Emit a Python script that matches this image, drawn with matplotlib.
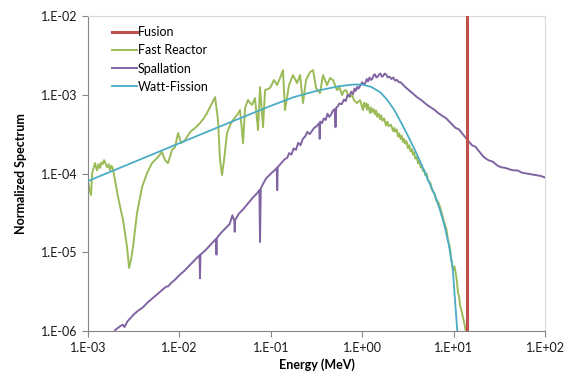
import numpy as np
import matplotlib
matplotlib.use('Agg')
import matplotlib.pyplot as plt
from matplotlib.ticker import FixedLocator, FuncFormatter

# Valeurs (en log10 : énergie en MeV, spectre normalisé)
fusion_e = [14.0, 14.0]
fusion_phi = [1e-7, 1.0]

fast_log_e = [
    -3.000, -2.985, -2.967, -2.955, -2.945, -2.923, -2.910, -2.900, -2.885, -2.869,
    -2.855, -2.840, -2.825, -2.814, -2.800, -2.790, -2.775, -2.759, -2.745, -2.730,
    -2.705, -2.672, -2.617, -2.573, -2.551, -2.530, -2.508, -2.464, -2.409, -2.354,
    -2.300, -2.245, -2.190, -2.158, -2.125, -2.081, -2.048, -2.015, -1.982, -1.939,
    -1.884, -1.829, -1.775, -1.731, -1.698, -1.654, -1.610, -1.578, -1.556, -1.534,
    -1.512, -1.479, -1.446, -1.414, -1.370, -1.337, -1.304, -1.282, -1.250, -1.206,
    -1.173, -1.140, -1.118, -1.085, -1.063, -1.009, -0.965, -0.932, -0.899, -0.867,
    -0.845, -0.801, -0.757, -0.713, -0.680, -0.648, -0.615, -0.571, -0.538, -0.505,
    -0.462, -0.429, -0.385, -0.352, -0.320, -0.276, -0.250, -0.221, -0.200, -0.177,
    -0.150, -0.134, -0.110, -0.090, -0.057, -0.024, 0.009, 0.020, 0.030, 0.042,
    0.053, 0.062, 0.070, 0.085, 0.097, 0.110, 0.125, 0.140, 0.152, 0.165,
    0.180, 0.195, 0.208, 0.220, 0.240, 0.260, 0.275, 0.290, 0.315, 0.337,
    0.350, 0.360, 0.378, 0.392, 0.405, 0.420, 0.433, 0.446, 0.458, 0.470,
    0.485, 0.501, 0.515, 0.530, 0.543, 0.556, 0.568, 0.580, 0.596, 0.611,
    0.625, 0.640, 0.652, 0.665, 0.678, 0.690, 0.705, 0.720, 0.745, 0.764,
    0.790, 0.808, 0.830, 0.851, 0.875, 0.895, 0.920, 0.939, 0.960, 0.972,
    0.993, 1.010, 1.026, 1.037, 1.048, 1.060, 1.070, 1.092, 1.114, 1.136,
]
fast_log_phi = [
    -4.083, -4.200, -4.273, -4.000, -3.950, -3.867, -3.930, -3.960, -3.880, -3.930,
    -3.860, -3.880, -3.830, -3.854, -3.900, -3.920, -3.880, -3.956, -3.900, -3.930,
    -4.083, -4.298, -4.590, -4.933, -5.200, -5.098, -4.933, -4.502, -4.171, -3.994,
    -3.867, -3.803, -3.727, -3.829, -3.867, -3.702, -3.663, -3.486, -3.613, -3.575,
    -3.473, -3.422, -3.359, -3.295, -3.232, -3.130, -3.029, -3.321, -3.829, -4.019,
    -3.829, -3.486, -3.384, -3.321, -3.257, -3.194, -3.613, -3.168, -3.067, -3.130,
    -3.041, -3.448, -2.902, -3.410, -2.940, -2.914, -2.813, -2.876, -2.787, -2.686,
    -3.194, -2.876, -2.749, -2.851, -2.749, -3.105, -2.813, -2.711, -2.686, -2.914,
    -2.978, -2.749, -2.876, -2.787, -2.813, -2.940, -2.900, -3.003, -2.950, -2.940,
    -3.010, -3.029, -3.000, -3.067, -3.105, -3.067, -3.194, -3.100, -3.150, -3.110,
    -3.190, -3.120, -3.160, -3.232, -3.160, -3.220, -3.180, -3.250, -3.200, -3.280,
    -3.240, -3.310, -3.260, -3.330, -3.300, -3.390, -3.340, -3.400, -3.380, -3.460,
    -3.420, -3.470, -3.440, -3.530, -3.490, -3.560, -3.520, -3.600, -3.560, -3.620,
    -3.590, -3.680, -3.640, -3.720, -3.690, -3.760, -3.730, -3.810, -3.790, -3.870,
    -3.840, -3.920, -3.900, -3.970, -3.950, -4.020, -4.000, -4.090, -4.120, -4.210,
    -4.250, -4.337, -4.360, -4.425, -4.520, -4.616, -4.700, -4.844, -4.950, -5.073,
    -5.225, -5.180, -5.289, -5.378, -5.517, -5.560, -5.670, -5.771, -5.886, -6.013,
]

spall_log_e = [
    -2.705, -2.650, -2.620, -2.600, -2.570, -2.500, -2.450, -2.400, -2.350, -2.300,
    -2.250, -2.200, -2.150, -2.120, -2.100, -2.050, -2.000, -1.950, -1.900, -1.850,
    -1.800, -1.780, -1.775, -1.770, -1.720, -1.680, -1.640, -1.600, -1.595, -1.590,
    -1.550, -1.500, -1.450, -1.420, -1.400, -1.395, -1.390, -1.350, -1.300, -1.250,
    -1.200, -1.150, -1.125, -1.118, -1.110, -1.080, -1.050, -1.000, -0.960, -0.935,
    -0.930, -0.925, -0.880, -0.850, -0.820, -0.800, -0.775, -0.750, -0.725, -0.700,
    -0.675, -0.650, -0.625, -0.600, -0.575, -0.550, -0.525, -0.500, -0.470, -0.465,
    -0.460, -0.440, -0.420, -0.400, -0.380, -0.360, -0.340, -0.320, -0.300, -0.292,
    -0.285, -0.265, -0.250, -0.225, -0.200, -0.180, -0.160, -0.140, -0.120, -0.100,
    -0.085, -0.070, -0.055, -0.040, -0.020, 0.000, 0.015, 0.030, 0.050, 0.065,
    0.080, 0.095, 0.110, 0.125, 0.140, 0.155, 0.170, 0.185, 0.200, 0.215,
    0.230, 0.245, 0.260, 0.280, 0.300, 0.320, 0.340, 0.360, 0.380, 0.400,
    0.420, 0.470, 0.520, 0.560, 0.600, 0.650, 0.700, 0.750, 0.790, 0.830,
    0.880, 0.920, 0.970, 1.020, 1.060, 1.100, 1.150, 1.200, 1.240, 1.280,
    1.330, 1.380, 1.430, 1.480, 1.520, 1.570, 1.620, 1.660, 1.700, 1.750,
    1.800, 1.850, 1.900, 1.950, 2.000,
]
spall_log_phi = [
    -5.990, -5.940, -5.920, -5.950, -5.880, -5.790, -5.740, -5.700, -5.640, -5.590,
    -5.540, -5.490, -5.440, -5.430, -5.400, -5.350, -5.290, -5.240, -5.180, -5.120,
    -5.060, -5.040, -5.330, -5.030, -4.980, -4.930, -4.880, -4.830, -5.030, -4.820,
    -4.760, -4.700, -4.640, -4.530, -4.600, -4.740, -4.590, -4.510, -4.450, -4.380,
    -4.310, -4.250, -4.210, -4.870, -4.190, -4.120, -4.060, -4.000, -3.960, -3.930,
    -4.210, -3.920, -3.860, -3.820, -3.800, -3.740, -3.760, -3.680, -3.700, -3.610,
    -3.640, -3.560, -3.530, -3.470, -3.500, -3.460, -3.420, -3.400, -3.360, -3.560,
    -3.340, -3.360, -3.300, -3.320, -3.240, -3.280, -3.250, -3.200, -3.180, -3.410,
    -3.170, -3.140, -3.110, -3.120, -3.060, -3.080, -3.000, -3.020, -2.960, -2.990,
    -2.920, -2.950, -2.900, -2.920, -2.880, -2.840, -2.870, -2.860, -2.800, -2.830,
    -2.780, -2.810, -2.800, -2.750, -2.740, -2.780, -2.770, -2.740, -2.730, -2.770,
    -2.760, -2.730, -2.740, -2.780, -2.770, -2.800, -2.780, -2.820, -2.810, -2.840,
    -2.840, -2.900, -2.950, -2.990, -3.030, -3.070, -3.120, -3.160, -3.190, -3.230,
    -3.270, -3.300, -3.360, -3.420, -3.440, -3.500, -3.570, -3.640, -3.660, -3.720,
    -3.790, -3.830, -3.850, -3.900, -3.920, -3.930, -3.950, -3.960, -3.960, -3.990,
    -4.000, -4.010, -4.020, -4.030, -4.050,
]

watt_log_e = [-3.0, -2.5, -2.0, -1.5, -1.0, -0.75, -0.5, -0.25, -0.1, 0.0,
              0.1, 0.2, 0.27, 0.35, 0.42, 0.5, 0.58, 0.65, 0.72, 0.8,
              0.85, 0.9, 0.95, 0.99, 1.04]
watt_log_phi = [-4.095, -3.855, -3.615, -3.375, -3.140, -3.030, -2.950, -2.890, -2.870, -2.870,
                -2.900, -2.970, -3.060, -3.190, -3.340, -3.520, -3.710, -3.890, -4.080, -4.290,
                -4.460, -4.660, -4.920, -5.200, -6.000]

x_ticks = [1e-3, 1e-2, 1e-1, 1e0, 1e1, 1e2]
y_ticks = [1e-6, 1e-5, 1e-4, 1e-3, 1e-2]

plt.rcParams['font.family'] = ['Lato', 'DejaVu Sans']

fig, ax = plt.subplots(figsize=(5.68, 3.74), dpi=100)
fig.subplots_adjust(left=0.155, right=0.9595, top=0.957, bottom=0.115)

ax.plot(fusion_e, fusion_phi, color='#C0504D', lw=2.2, label='Fusion', zorder=5)
ax.plot(10 ** np.array(fast_log_e), 10 ** np.array(fast_log_phi),
        color='#9BBB59', lw=1.4, label='Fast Reactor', zorder=2)
ax.plot(10 ** np.array(spall_log_e), 10 ** np.array(spall_log_phi),
        color='#8064A2', lw=1.4, label='Spallation', zorder=3)
ax.plot(10 ** np.array(watt_log_e), 10 ** np.array(watt_log_phi),
        color='#4BACC6', lw=1.3, label='Watt-Fission', zorder=4)

ax.set_xscale('log')
ax.set_yscale('log')
ax.set_xlim(1e-3, 1e2)
ax.set_ylim(1e-6, 1e-2)

def excel_fmt(v, pos):
    e = int(round(np.log10(v)))
    return '1.E%s%02d' % ('+' if e >= 0 else '-', abs(e))

ax.xaxis.set_major_locator(FixedLocator(x_ticks))
ax.yaxis.set_major_locator(FixedLocator(y_ticks))
ax.xaxis.set_major_formatter(FuncFormatter(excel_fmt))
ax.yaxis.set_major_formatter(FuncFormatter(excel_fmt))
ax.minorticks_off()
ax.tick_params(axis='both', which='major', direction='out', length=4,
               width=0.8, color='#868686', labelsize=9, labelcolor='#1a1a1a')
ax.tick_params(axis='x', pad=4)

for side in ['left', 'bottom']:
    ax.spines[side].set_color('#868686')
    ax.spines[side].set_linewidth(0.8)
for side in ['top', 'right']:
    ax.spines[side].set_color('#D9D9D9')
    ax.spines[side].set_linewidth(0.8)

ax.set_xlabel('Energy (MeV)', fontsize=9, fontweight='bold', labelpad=3)
ax.set_ylabel('Normalized Spectrum', fontsize=9, fontweight='bold', labelpad=10)

ax.legend(loc='upper left', bbox_to_anchor=(0.03, 1.0), frameon=False, fontsize=9,
          handlelength=2.0, handletextpad=0.1, labelspacing=0.5, borderaxespad=0.4)

plt.savefig('out.png', dpi=100)
plt.close()
